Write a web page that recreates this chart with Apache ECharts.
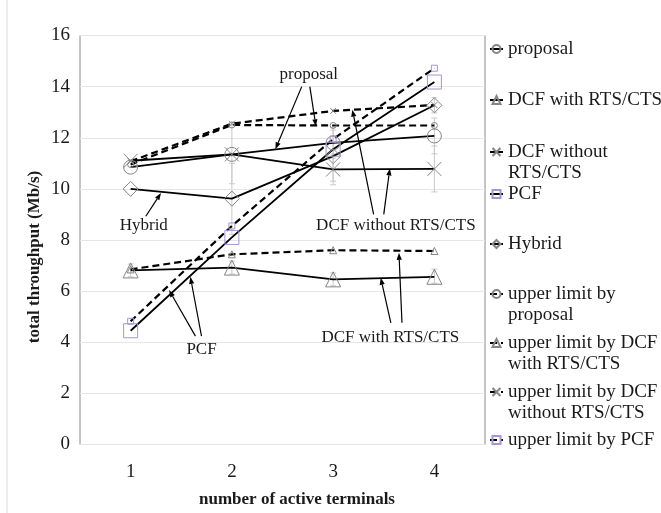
<!DOCTYPE html>
<html>
<head>
<meta charset="utf-8">
<script src="https://cdn.jsdelivr.net/npm/echarts@6/dist/echarts.min.js"></script>
<style>html,body{margin:0;padding:0;background:#fff;}#c{width:661px;height:513px;}</style>
</head>
<body>
<div id="c"></div>
<script>
// ---------- data ----------
const categories = ['1', '2', '3', '4'];
const yTicks = { min: 0, max: 16, interval: 2 };

const proposal        = [10.85, 11.35, 11.8, 12.07];
const dcfWith         = [6.81, 6.92, 6.46, 6.56];
const dcfWithout      = [11.1, 11.35, 10.76, 10.78];
const pcf             = [4.45, 8.1, 11.55, 14.18];
const hybrid          = [10.0, 9.62, 11.28, 13.27];
const upperProposal   = [10.95, 12.5, 12.48, 12.48];
const upperDcfWith    = [6.85, 7.44, 7.6, 7.57];
const upperDcfWithout = [11.08, 12.55, 13.05, 13.28];
const upperPcf        = [4.82, 8.55, 11.95, 14.72];

// error bars: [category index, low, high]
const errorBars = [
  [1, 10.2, 12.5], [1, 8.22, 11.0],
  [2, 10.16, 11.36], [2, 11.2, 12.4], [2, 10.3, 12.3],
  [3, 9.88, 11.68], [3, 11.37, 12.77], [3, 12.97, 13.57],
  [0, 6.56, 7.06], [1, 6.67, 7.17], [2, 6.21, 6.71], [3, 6.31, 6.86]
];

// annotations (data space of the hidden value x axis)
const annotationTexts = [
  ['proposal', 2.76, 14.48],
  ['Hybrid', 1.13, 8.55],
  ['DCF without RTS/CTS', 3.62, 8.55],
  ['PCF', 1.70, 3.71],
  ['DCF with RTS/CTS', 3.565, 4.2]
];
const annotationArrows = [
  [2.69, 14.0, 2.43, 11.55],
  [2.77, 14.0, 2.83, 12.45],
  [1.15, 8.93, 1.30, 9.84],
  [3.40, 9.0, 3.19, 13.1],
  [3.50, 9.0, 3.56, 10.8],
  [1.64, 4.24, 1.38, 6.04],
  [1.70, 4.24, 1.59, 6.56],
  [3.57, 4.76, 3.47, 6.52],
  [3.68, 4.76, 3.65, 7.50]
];

const seriesNames = ['proposal', 'DCF with RTS/CTS', 'DCF without RTS/CTS', 'PCF', 'Hybrid',
  'upper limit by proposal', 'upper limit by DCF with RTS/CTS', 'upper limit by DCF without RTS/CTS', 'upper limit by PCF'];
const legendLabels = ['proposal', 'DCF with RTS/CTS', 'DCF without\nRTS/CTS', 'PCF', 'Hybrid',
  'upper limit by\nproposal', 'upper limit by DCF\nwith RTS/CTS', 'upper limit by DCF\nwithout RTS/CTS', 'upper limit by PCF'];
const legendCenters = [49, 100, 152, 194, 244, 294, 343, 392, 440];

// ---------- styling ----------
const FONT = '"Liberation Serif", "Times New Roman", serif';
const TXT = '#1a1a1a';
const MK = '#858585';
const PURPLE = '#a796cc';
const XPATH = 'path://M0,0L10,10M0,10L10,0';

function mkSeries(name, data, symbol, size, mcolor, dashed) {
  return {
    name: name, type: 'line', data: data,
    symbol: symbol, symbolSize: size, showSymbol: true,
    lineStyle: { color: '#000', width: dashed ? 2.2 : 1.8, type: dashed ? [7, 4] : 'solid' },
    itemStyle: { color: 'rgba(255,255,255,0)', borderColor: mcolor, borderWidth: 1 },
    emphasis: { disabled: true },
    z: 3
  };
}

const series = [
  mkSeries(seriesNames[0], proposal, 'circle', 14, MK, false),
  mkSeries(seriesNames[1], dcfWith, 'triangle', 15, MK, false),
  mkSeries(seriesNames[2], dcfWithout, XPATH, 14, MK, false),
  mkSeries(seriesNames[3], pcf, 'rect', 14, PURPLE, false),
  mkSeries(seriesNames[4], hybrid, 'diamond', 15, MK, false),
  mkSeries(seriesNames[5], upperProposal, 'circle', 6, MK, true),
  mkSeries(seriesNames[6], upperDcfWith, 'triangle', 7, MK, true),
  mkSeries(seriesNames[7], upperDcfWithout, XPATH, 6, MK, true),
  mkSeries(seriesNames[8], upperPcf, 'rect', 6, PURPLE, true),
  {
    type: 'custom', name: 'errors', data: errorBars, z: 1, silent: true,
    encode: { x: 0, y: [1, 2] },
    renderItem: function (params, api) {
      const x = api.value(0);
      const a = api.coord([x, api.value(1)]);
      const b = api.coord([x, api.value(2)]);
      const st = { stroke: '#c9c9c9', lineWidth: 1 };
      return { type: 'group', children: [
        { type: 'line', shape: { x1: a[0], y1: a[1], x2: b[0], y2: b[1] }, style: st },
        { type: 'line', shape: { x1: a[0] - 3, y1: a[1], x2: a[0] + 3, y2: a[1] }, style: st },
        { type: 'line', shape: { x1: b[0] - 3, y1: b[1], x2: b[0] + 3, y2: b[1] }, style: st }
      ]};
    }
  },
  {
    type: 'custom', name: 'arrows', xAxisIndex: 1, data: annotationArrows, z: 5, silent: true,
    encode: { x: [0, 2], y: [1, 3] },
    renderItem: function (params, api) {
      const p = api.coord([api.value(0), api.value(1)]);
      const q = api.coord([api.value(2), api.value(3)]);
      const dx = q[0] - p[0], dy = q[1] - p[1];
      const L = Math.sqrt(dx * dx + dy * dy);
      const ux = dx / L, uy = dy / L;
      const hl = 7, hw = 2.6;
      const bx = q[0] - ux * hl, by = q[1] - uy * hl;
      return { type: 'group', children: [
        { type: 'line', shape: { x1: p[0], y1: p[1], x2: bx, y2: by }, style: { stroke: '#000', lineWidth: 1.2 } },
        { type: 'polygon', shape: { points: [[q[0], q[1]], [bx - uy * hw, by + ux * hw], [bx + uy * hw, by - ux * hw]] }, style: { fill: '#000' } }
      ]};
    }
  },
  {
    type: 'custom', name: 'notes', xAxisIndex: 1, data: annotationTexts.map(t => [t[1], t[2], t[0]]), z: 6, silent: true,
    encode: { x: 0, y: 1 },
    renderItem: function (params, api) {
      const p = api.coord([api.value(0), api.value(1)]);
      return { type: 'text', x: p[0], y: p[1], style: {
        text: annotationTexts[params.dataIndex][0], fill: TXT, font: '17px ' + FONT,
        align: 'center', verticalAlign: 'middle' } };
    }
  }
];

const LH = 21;
const legends = seriesNames.map(function (n, i) {
  const twoLine = legendLabels[i].indexOf('\n') >= 0;
  // a blank first line keeps the icon level with the first text line
  const label = twoLine ? '\u00a0\n' + legendLabels[i] : legendLabels[i];
  return {
    data: [n], orient: 'vertical', left: 489, padding: 0,
    top: twoLine ? legendCenters[i] - LH * 1.5 : legendCenters[i] - LH / 2,
    itemWidth: 13, itemHeight: 10, itemGap: 0,
    formatter: function () { return label; },
    textStyle: { fontFamily: FONT, fontSize: 19, color: TXT, lineHeight: LH },
    selectedMode: false
  };
});

const option = {
  animation: false,
  backgroundColor: '#fff',
  grid: { left: 80, right: 176, top: 35.5, bottom: 68.5, show: true, borderColor: '#8a8a8a', borderWidth: 1, backgroundColor: 'transparent' },
  xAxis: [
    { type: 'category', data: categories, boundaryGap: true,
      axisLine: { show: false }, axisTick: { show: false }, splitLine: { show: false },
      axisLabel: { fontFamily: FONT, fontSize: 19, color: TXT, margin: 18 } },
    { type: 'value', min: 0.5, max: 4.5, show: false, splitLine: { show: false } }
  ],
  yAxis: { type: 'value', min: yTicks.min, max: yTicks.max, interval: yTicks.interval,
    axisLine: { show: false }, axisTick: { show: false },
    splitLine: { lineStyle: { color: '#e6e6e6', width: 1 } },
    axisLabel: { fontFamily: FONT, fontSize: 19, color: TXT, margin: 10 } },
  legend: legends,
  series: series,
  graphic: [
    { type: 'line', shape: { x1: 7, y1: 0, x2: 7, y2: 513 }, style: { stroke: '#d9d9d9', lineWidth: 1 } },
    { type: 'text', x: 35, y: 257, rotation: Math.PI / 2,
      style: { text: 'total throughput (Mb/s)', font: 'bold 17px ' + FONT, fill: TXT, align: 'center', verticalAlign: 'middle' } },
    { type: 'text', x: 297, y: 500,
      style: { text: 'number of active terminals', font: 'bold 17px ' + FONT, fill: TXT, align: 'center', verticalAlign: 'middle' } }
  ]
};

const chart = echarts.init(document.getElementById('c'), null, { renderer: 'canvas' });
chart.setOption(option);
</script>
</body>
</html>
